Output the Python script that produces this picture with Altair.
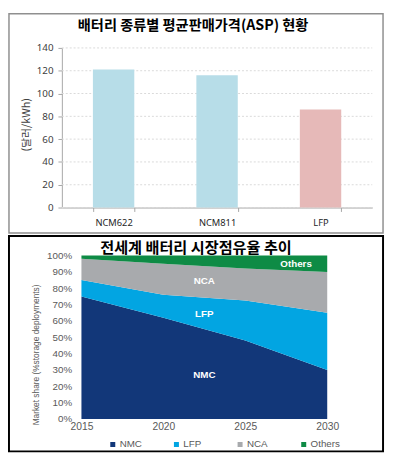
import altair as alt
import pandas as pd

# ---------------- data: top chart (ASP by battery type) ----------------
asp_types = ["NCM622", "NCM811", "LFP"]
asp_values = [121, 116, 86]
asp_ticks = [0, 20, 40, 60, 80, 100, 120, 140]

# ---------------- data: bottom chart (market share, %) ----------------
years = [2015, 2020, 2025, 2030]
series_names = ["NMC", "LFP", "NCA", "Others"]
nmc_share = [75, 62, 48, 30]
lfp_share = [10, 14, 24.5, 35]
nca_share = [13, 19, 19.5, 25]
others_share = [2, 5, 8, 10]
share_ticks = [0, 10, 20, 30, 40, 50, 60, 70, 80, 90, 100]
year_ticks = [2015, 2020, 2025, 2030]
label_names = ["NMC", "LFP", "NCA", "Others"]
label_years = [2022.5, 2022.5, 2022.5, 2028.1]
label_shares = [27, 64.5, 84.5, 94.5]

TITLE1 = "배터리 종류별 평균판매가격(ASP) 현황"
TITLE2 = "전세계 배터리 시장점유율 추이"
YTITLE1 = "(달러/kWh)"
YTITLE2 = "Market share (%storage deployments)"

# ---------------- style / layout ----------------
KR = "Noto Sans CJK KR"
NS = "Noto Sans"
AR = "Liberation Sans"
BLUE = "#B7DDE8"
PINK = "#E6B9B8"
series_colors = ["#123779", "#02A5E2", "#A8AAAD", "#0E8B45"]

W, H = 385, 450
# top panel plot rectangle (pixels in the view)
P1 = dict(x0=55, x1=372, y0=36, y1=199)
# bottom panel plot rectangle
P2 = dict(x0=75, x1=326, y0=248, y1=415)

one = pd.DataFrame({"k": [0]})
df_asp = pd.DataFrame({"type": asp_types, "asp": asp_values})
df_grid = pd.DataFrame({"v": asp_ticks})
rows = []
for idx, (name, vals) in enumerate(zip(series_names, [nmc_share, lfp_share, nca_share, others_share])):
    for yr, v in zip(years, vals):
        rows.append({"year": yr, "series": name, "share": v, "order": idx})
df_share = pd.DataFrame(rows)
df_labels = pd.DataFrame({"name": label_names, "year": label_years, "share": label_shares})

x1_scale = alt.Scale(range=[P1["x0"], P1["x1"]], paddingInner=0.6, paddingOuter=0.3)
y1_scale = alt.Scale(domain=[0, 140], nice=False, range=[P1["y1"], P1["y0"]])
x2_scale = alt.Scale(domain=[2015, 2030], nice=False, range=[P2["x0"], P2["x1"]])
y2_scale = alt.Scale(domain=[0, 100], nice=False, range=[P2["y1"], P2["y0"]])

# ---------------- frames ----------------
frame1 = alt.Chart(one).mark_rect(fillOpacity=0, stroke="#8F8F8F", strokeWidth=1.5).encode(
    x=alt.value(1), x2=alt.value(383), y=alt.value(1), y2=alt.value(225)
)
frame2 = alt.Chart(one).mark_rect(fillOpacity=0, stroke="#000000", strokeWidth=2).encode(
    x=alt.value(1), x2=alt.value(383), y=alt.value(228), y2=alt.value(448)
)

# ---------------- top panel ----------------
title1 = alt.Chart(one).mark_text(
    text=TITLE1, font=KR, fontSize=14.5, fontWeight="bold", color="#000000",
    align="center", baseline="middle"
).encode(x=alt.value(189), y=alt.value(14))

grid1 = alt.Chart(df_grid).mark_rule(color="#D9D9D9", strokeWidth=1, strokeDash=[2, 2]).encode(
    y=alt.Y("v:Q", scale=y1_scale, axis=None),
    x=alt.value(P1["x0"]), x2=alt.value(P1["x1"]),
)

bars = alt.Chart(df_asp).mark_bar().encode(
    x=alt.X("type:N", sort=asp_types, scale=x1_scale,
            axis=alt.Axis(orient="bottom", offset=P1["y1"] - H, title=None, labelAngle=0,
                          tickBand="extent", tickSize=4, tickColor="#A6A6A6",
                          domainColor="#A6A6A6", grid=False,
                          labelFont=NS, labelFontSize=9.5, labelColor="#262626",
                          labelPadding=6)),
    y=alt.Y("asp:Q", scale=y1_scale,
            axis=alt.Axis(orient="left", offset=-P1["x0"], values=asp_ticks, grid=False,
                          title=YTITLE1, titleFont=KR, titleFontSize=11,
                          titleFontWeight="normal", titleColor="#404040",
                          titleX=-31, titleY=114,
                          labelFont=NS, labelFontSize=10, labelColor="#404040",
                          labelPadding=5, tickSize=4, tickColor="#A6A6A6",
                          domainColor="#A6A6A6", labelOverlap=False)),
    color=alt.condition(alt.datum.type == "LFP", alt.value(PINK), alt.value(BLUE)),
)

# ---------------- bottom panel ----------------
title2 = alt.Chart(one).mark_text(
    text=TITLE2, font=KR, fontSize=15.5, fontWeight="bold", color="#000000",
    align="center", baseline="middle"
).encode(x=alt.value(192), y=alt.value(240))

areas = alt.Chart(df_share).mark_area(interpolate="linear").encode(
    x=alt.X("year:Q", scale=x2_scale,
            axis=alt.Axis(orient="bottom", offset=P2["y1"] - H, values=year_ticks, format="d",
                          title=None, grid=False, domain=False, ticks=False,
                          labelFlush=False, labelOverlap=False,
                          labelFont=AR, labelFontSize=10.5, labelColor="#595959",
                          labelPadding=3)),
    y=alt.Y("share:Q", stack="zero", scale=y2_scale,
            axis=alt.Axis(orient="left", offset=-P2["x0"], values=share_ticks,
                          labelExpr="datum.value + '%'", labelOverlap=False,
                          title=YTITLE2, titleFont=AR, titleFontSize=8.5,
                          titleFontWeight="normal", titleColor="#595959",
                          titleX=-42, titleY=349,
                          grid=False, domain=False, ticks=False,
                          labelFont=AR, labelFontSize=10, labelColor="#595959",
                          labelPadding=10)),
    color=alt.Color("series:N", sort=series_names,
                    scale=alt.Scale(domain=series_names, range=series_colors),
                    legend=alt.Legend(title=None, orient="none", legendX=102, legendY=436,
                                      direction="horizontal", columns=4, gridAlign="all",
                                      columnPadding=22, symbolType="square", symbolSize=26,
                                      symbolStrokeWidth=0, labelFont=AR, labelFontSize=10,
                                      labelColor="#595959", labelOffset=2)),
    order=alt.Order("order:Q"),
)
area_labels = alt.Chart(df_labels).mark_text(
    font=AR, fontSize=10, fontWeight="bold", color="#FFFFFF", align="center", baseline="middle"
).encode(
    x=alt.X("year:Q", scale=x2_scale, axis=None),
    y=alt.Y("share:Q", stack=None, scale=y2_scale, axis=None),
    text="name:N",
)

chart = alt.layer(
    frame1, frame2, grid1, bars, title1, areas, area_labels, title2
).resolve_scale(
    x="independent", y="independent"
).resolve_axis(
    x="independent", y="independent"
).properties(
    width=W, height=H, padding=0, background="white",
    autosize=alt.AutoSizeParams(type="none")
).configure_view(stroke=None)

chart.save("out.html", embed_options={"renderer": "svg", "actions": False})
